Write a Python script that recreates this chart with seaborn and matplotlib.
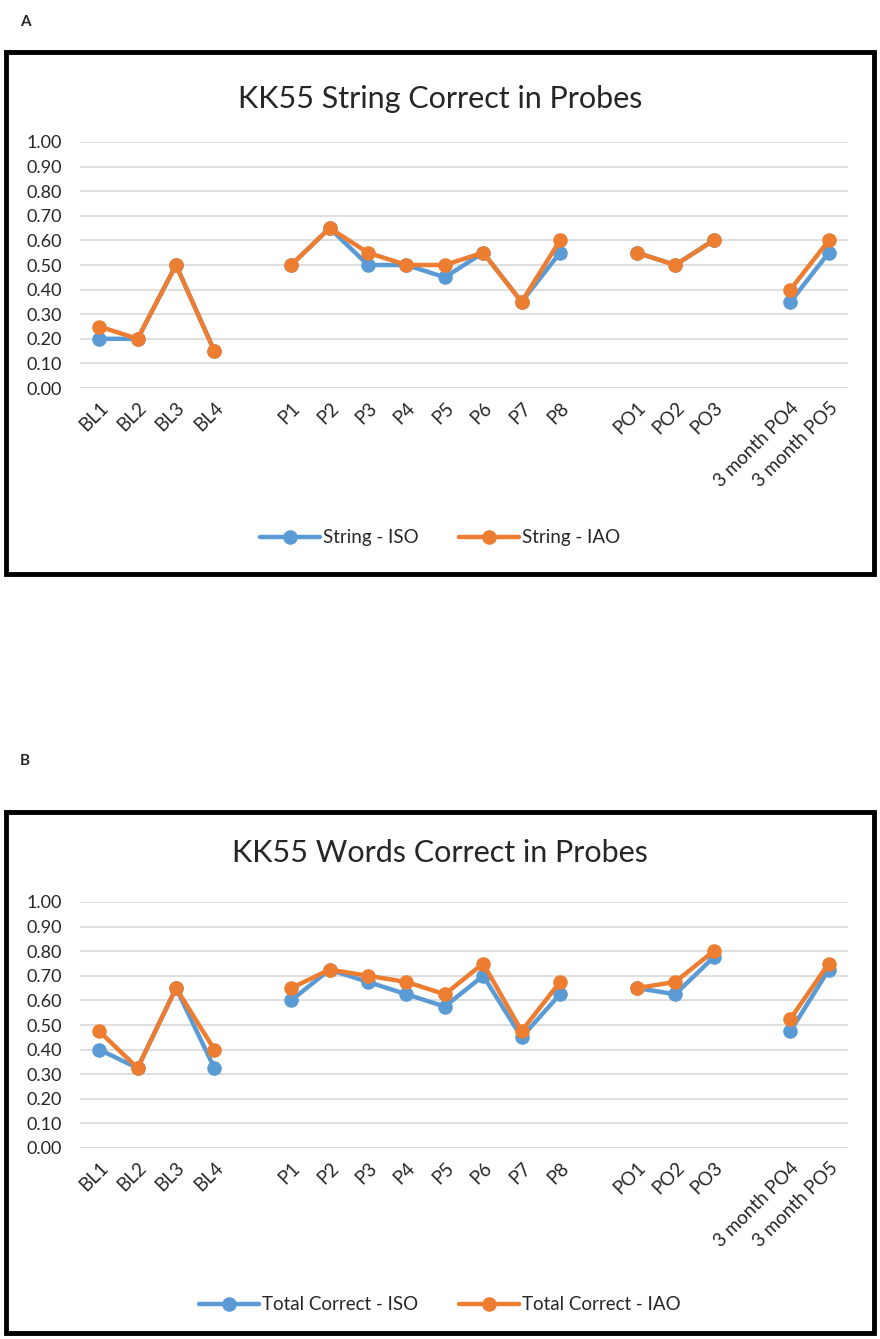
import numpy as np
import matplotlib
matplotlib.use("Agg")
import matplotlib.pyplot as plt
import seaborn as sns
from matplotlib.patches import Rectangle
from matplotlib.lines import Line2D

sns.set_theme(style="white")
plt.rcParams["font.family"] = ["Lato", "DejaVu Sans"]

# categories (empty strings are the gaps between probe phases)
categories = ["BL1", "BL2", "BL3", "BL4", "",
              "P1", "P2", "P3", "P4", "P5", "P6", "P7", "P8", "",
              "PO1", "PO2", "PO3", "",
              "3 month PO4", "3 month PO5"]

string_iso = [0.20, 0.20, 0.50, 0.15, None,
              0.50, 0.65, 0.50, 0.50, 0.45, 0.55, 0.35, 0.55, None,
              0.55, 0.50, 0.60, None,
              0.35, 0.55]
string_iao = [0.25, 0.20, 0.50, 0.15, None,
              0.50, 0.65, 0.55, 0.50, 0.50, 0.55, 0.35, 0.60, None,
              0.55, 0.50, 0.60, None,
              0.40, 0.60]

words_iso = [0.40, 0.325, 0.65, 0.325, None,
             0.60, 0.725, 0.675, 0.625, 0.575, 0.70, 0.45, 0.625, None,
             0.65, 0.625, 0.775, None,
             0.475, 0.725]
words_iao = [0.475, 0.325, 0.65, 0.40, None,
             0.65, 0.725, 0.70, 0.675, 0.625, 0.75, 0.475, 0.675, None,
             0.65, 0.675, 0.80, None,
             0.525, 0.75]

blue = "#5B9BD5"
orange = "#ED7D31"
W, H = 880, 1339


def draw_series(ax, values, color):
    # draw each contiguous run separately so the gaps stay open
    seg_x, seg_y = [], []
    for i, v in enumerate(values + [None]):
        if v is None:
            if seg_x:
                sns.lineplot(x=seg_x, y=seg_y, ax=ax, color=color, linewidth=3.2,
                             marker="o", markersize=10.5, markeredgewidth=0,
                             zorder=3)
            seg_x, seg_y = [], []
        else:
            seg_x.append(i)
            seg_y.append(v)


def panel(fig, top_px, bottom_px, title, title_y, iso, iao, names, legend_y):
    ax = fig.add_axes([80 / W, 1 - bottom_px / H, 768 / W, (bottom_px - top_px) / H])
    draw_series(ax, iso, blue)
    draw_series(ax, iao, orange)
    ax.set_xlim(-0.5, len(categories) - 0.5)
    ax.set_ylim(0, 1.0)
    ax.set_yticks(np.arange(0, 1.01, 0.1))
    ax.set_yticklabels([f"{t:.2f}" for t in np.arange(0, 1.01, 0.1)], fontsize=13)
    ax.set_xticks(range(len(categories)))
    ax.set_xticklabels(categories, rotation=45, ha="right", rotation_mode="anchor",
                       fontsize=13.5)
    ax.tick_params(axis="y", length=0, pad=13)
    ax.tick_params(axis="x", length=0, pad=8)
    ax.grid(axis="y", color="#D9D9D9", linewidth=1.2)
    ax.set_axisbelow(True)
    for s in ax.spines.values():
        s.set_visible(False)
    fig.text(0.5, 1 - title_y / H, title, ha="center", va="center", fontsize=22)
    handles = [Line2D([], [], color=blue, lw=3.2, marker="o", ms=10.5, mew=0),
               Line2D([], [], color=orange, lw=3.2, marker="o", ms=10.5, mew=0)]
    fig.legend(handles, names, loc="center", bbox_to_anchor=(0.5, 1 - legend_y / H),
               ncol=2, frameon=False, fontsize=13.5, handlelength=3.2,
               handletextpad=0.15, columnspacing=2.2)
    return ax


fig = plt.figure(figsize=(W / 100, H / 100), dpi=100)

# outer frames
fig.patches.append(Rectangle((6 / W, 1 - 574 / H), 868 / W, 522 / H, transform=fig.transFigure,
                             fill=False, edgecolor="black", linewidth=3.5))
fig.patches.append(Rectangle((6 / W, 1 - 1333 / H), 868 / W, 521 / H, transform=fig.transFigure,
                             fill=False, edgecolor="black", linewidth=3.5))

fig.text(20 / W, 1 - 22 / H, "A", fontsize=11, fontweight="bold", va="center")
fig.text(20 / W, 1 - 761 / H, "B", fontsize=11, fontweight="bold", va="center")

panel(fig, 142, 388, "KK55 String Correct in Probes", 99,
      string_iso, string_iao, ["String - ISO", "String - IAO"], 538)
panel(fig, 902, 1148, "KK55 Words Correct in Probes", 853,
      words_iso, words_iao, ["Total Correct - ISO", "Total Correct - IAO"], 1305)

fig.savefig("out.png", dpi=100)
